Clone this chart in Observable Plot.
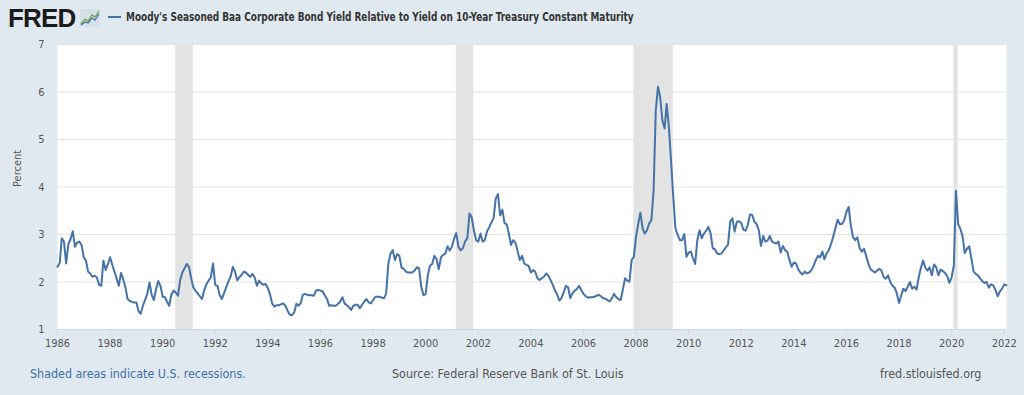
<!DOCTYPE html>
<html>
<head>
<meta charset="utf-8">
<script src="https://cdn.jsdelivr.net/npm/d3@7"></script>
<script src="https://cdn.jsdelivr.net/npm/@observablehq/plot@0.6"></script>
<style>
  html, body { margin: 0; padding: 0; background: #e1e9f0; width: 1024px; height: 395px; overflow: hidden; }
  body { font-family: "Liberation Sans", Arial, sans-serif; }
  #header { position: relative; height: 36px; }
  #logo { position: absolute; left: 8px; top: 3px; font: bold 26px "Liberation Sans", Arial, sans-serif; letter-spacing: -0.8px; color: #1a1a1a; }
  #icon { position: absolute; left: 80px; top: 9px; }
  #legline { position: absolute; left: 108px; top: 16px; width: 13px; height: 2px; background: #4572a7; }
  #title { position: absolute; left: 126px; top: 10px; font: bold 11.5px "DejaVu Sans Condensed", "Liberation Sans", Arial, sans-serif; color: #333; white-space: nowrap; transform: scaleX(0.862); transform-origin: 0 50%; }
  #chart { position: relative; height: 318px; }
  #footer { position: relative; height: 41px; font: 12.4px "DejaVu Sans Condensed", "Liberation Sans", Arial, sans-serif; color: #555; }
  #footer div { position: absolute; top: 12px; white-space: nowrap; }
  #f1 { left: 30px; color: #3f6fa8; }
  #f2 { left: 392px; }
  #f3 { left: 880px; }
</style>
</head>
<body>
<div id="header">
  <div id="logo">FRED</div>
  <svg id="icon" width="20" height="18" viewBox="0 0 20 18">
    <rect x="0" y="0" width="20" height="18" fill="#d7e0e8"/>
    <polyline points="1,15 5,10 8,12 12,6 15,8 19,2" fill="none" stroke="#6aa84f" stroke-width="1.3"/>
    <polyline points="1,16 5,13 8,14 12,9 15,11 19,5" fill="none" stroke="#4572a7" stroke-width="1.3"/>
  </svg>
  <div id="legline"></div>
  <div id="title">Moody's Seasoned Baa Corporate Bond Yield Relative to Yield on 10-Year Treasury Constant Maturity</div>
</div>
<div id="chart"></div>
<div id="footer">
  <div id="f1">Shaded areas indicate U.S. recessions.</div>
  <div id="f2">Source: Federal Reserve Bank of St. Louis</div>
  <div id="f3">fred.stlouisfed.org</div>
</div>
<script>
// Monthly observations, starting January 1986 (percent)
const firstMonth = "1986-01-01";
const spread = [
  // 1986
  2.32, 2.40, 2.92, 2.85, 2.39, 2.80, 2.90, 3.07, 2.74, 2.83, 2.85, 2.78,
  // 1987
  2.52, 2.45, 2.22, 2.18, 2.11, 2.13, 2.10, 1.94, 1.92, 2.45, 2.25, 2.37,
  // 1988
  2.52, 2.36, 2.22, 2.08, 1.92, 2.19, 2.06, 1.89, 1.64, 1.60, 1.58, 1.57,
  // 1989
  1.57, 1.38, 1.33, 1.50, 1.62, 1.75, 1.99, 1.73, 1.62, 1.85, 2.02, 1.92,
  // 1990
  1.69, 1.68, 1.59, 1.50, 1.73, 1.82, 1.78, 1.71, 2.04, 2.20, 2.29, 2.38,
  // 1991
  2.32, 2.08, 1.89, 1.82, 1.76, 1.70, 1.64, 1.83, 1.95, 2.03, 2.10, 2.39,
  // 1992
  1.94, 1.92, 1.73, 1.64, 1.76, 1.89, 2.01, 2.11, 2.32, 2.22, 2.03, 2.10,
  // 1993
  2.15, 2.22, 2.20, 2.15, 2.11, 2.17, 2.10, 1.92, 2.03, 1.97, 1.94, 1.96,
  // 1994
  1.87, 1.73, 1.55, 1.48, 1.51, 1.51, 1.53, 1.55, 1.50, 1.40, 1.31, 1.30,
  // 1995
  1.36, 1.54, 1.50, 1.55, 1.73, 1.75, 1.73, 1.72, 1.72, 1.71, 1.82, 1.83,
  // 1996
  1.82, 1.80, 1.72, 1.64, 1.50, 1.51, 1.50, 1.50, 1.54, 1.59, 1.68, 1.55,
  // 1997
  1.51, 1.47, 1.41, 1.50, 1.52, 1.52, 1.45, 1.52, 1.59, 1.64, 1.57, 1.55,
  // 1998
  1.62, 1.69, 1.69, 1.69, 1.67, 1.66, 1.75, 2.39, 2.60, 2.67, 2.46, 2.59,
  // 1999
  2.55, 2.30, 2.28, 2.22, 2.20, 2.20, 2.20, 2.24, 2.31, 2.29, 1.90, 1.72,
  // 2000
  1.75, 2.15, 2.34, 2.38, 2.55, 2.48, 2.27, 2.52, 2.57, 2.60, 2.75, 2.66,
  // 2001
  2.75, 2.92, 3.03, 2.74, 2.67, 2.71, 2.85, 2.92, 3.44, 3.37, 3.09, 2.88,
  // 2002
  2.85, 3.02, 2.85, 2.88, 3.06, 3.15, 3.25, 3.34, 3.76, 3.85, 3.40, 3.52,
  // 2003
  3.24, 3.21, 3.02, 2.78, 2.88, 2.83, 2.65, 2.46, 2.55, 2.39, 2.36, 2.34,
  // 2004
  2.20, 2.25, 2.22, 2.08, 2.04, 2.08, 2.11, 2.18, 2.13, 2.04, 1.94, 1.82,
  // 2005
  1.73, 1.61, 1.66, 1.78, 1.92, 1.89, 1.66, 1.76, 1.82, 1.85, 1.92, 1.83,
  // 2006
  1.75, 1.70, 1.67, 1.68, 1.68, 1.69, 1.71, 1.73, 1.70, 1.66, 1.65, 1.62,
  // 2007
  1.59, 1.66, 1.75, 1.68, 1.64, 1.62, 1.83, 2.08, 2.03, 2.01, 2.46, 2.53,
  // 2008
  2.95, 3.23, 3.46, 3.13, 3.02, 3.09, 3.23, 3.30, 3.93, 5.61, 6.11, 5.89,
  // 2009
  5.40, 5.23, 5.75, 5.26, 4.56, 3.79, 3.13, 2.99, 2.88, 2.88, 3.01, 2.53,
  // 2010
  2.62, 2.64, 2.50, 2.38, 2.88, 3.09, 2.92, 3.02, 3.08, 3.16, 3.03, 2.71,
  // 2011
  2.69, 2.60, 2.59, 2.60, 2.66, 2.73, 2.78, 3.27, 3.34, 3.06, 3.27, 3.28,
  // 2012
  3.24, 3.10, 3.08, 3.20, 3.42, 3.41, 3.27, 3.22, 3.09, 2.76, 2.97, 2.85,
  // 2013
  2.87, 2.97, 2.85, 2.83, 2.81, 2.85, 2.62, 2.76, 2.67, 2.64, 2.46, 2.32,
  // 2014
  2.41, 2.39, 2.27, 2.20, 2.16, 2.22, 2.18, 2.20, 2.25, 2.34, 2.46, 2.55,
  // 2015
  2.52, 2.64, 2.48, 2.60, 2.67, 2.80, 2.95, 3.13, 3.31, 3.22, 3.22, 3.30,
  // 2016
  3.48, 3.58, 3.20, 2.95, 2.88, 2.94, 2.72, 2.64, 2.70, 2.55, 2.38, 2.27,
  // 2017
  2.23, 2.20, 2.24, 2.28, 2.24, 2.10, 2.07, 2.14, 2.00, 1.92, 1.88, 1.76,
  // 2018
  1.56, 1.72, 1.86, 1.81, 1.90, 2.00, 1.86, 1.90, 1.84, 2.10, 2.30, 2.45,
  // 2019
  2.30, 2.24, 2.31, 2.14, 2.37, 2.31, 2.14, 2.26, 2.23, 2.19, 2.12, 1.98,
  // 2020
  2.10, 2.35, 3.92, 3.22, 3.12, 2.96, 2.61, 2.70, 2.75, 2.50, 2.22, 2.17,
  // 2021
  2.14, 2.07, 2.02, 1.98, 2.00, 1.88, 1.95, 1.93, 1.83, 1.70, 1.80, 1.86,
  // 2022
  1.95, 1.93
];

const recessionStarts = ["1990-07-01", "2001-03-01", "2007-12-01", "2020-02-01"];
const recessionEnds   = ["1991-03-01", "2001-11-01", "2009-06-01", "2020-04-01"];
const yTicks = [1, 2, 3, 4, 5, 6, 7];
const xTickYears = [1986, 1988, 1990, 1992, 1994, 1996, 1998, 2000, 2002, 2004, 2006, 2008, 2010, 2012, 2014, 2016, 2018, 2020, 2022];

const start = new Date(firstMonth + "T00:00:00Z");
const series = spread.map((v, i) => ({date: d3.utcMonth.offset(start, i), value: v}));
const recessions = recessionStarts.map((s, i) => ({start: new Date(s + "T00:00:00Z"), end: new Date(recessionEnds[i] + "T00:00:00Z")}));
const xTicks = xTickYears.map(y => new Date(Date.UTC(y, 0, 1)));
const lastDate = series[series.length - 1].date;

const chart = Plot.plot({
  width: 1024,
  height: 318,
  marginTop: 8,
  marginLeft: 57,
  marginRight: 18,
  marginBottom: 25,
  style: {background: "transparent", fontFamily: "'Liberation Sans Narrow', 'DejaVu Sans Condensed', Arial, sans-serif", fontSize: "11px", color: "#555", overflow: "visible"},
  x: {type: "utc", domain: [start, lastDate]},
  y: {domain: [1, 7]},
  marks: [
    Plot.frame({fill: "white", stroke: "none"}),
    Plot.rect(recessions, {x1: "start", x2: "end", fill: "#e3e3e3"}),
    Plot.gridY(yTicks.slice(1), {stroke: "#e4e4e4", strokeOpacity: 1}),
    Plot.ruleY([1], {stroke: "#ccd6eb"}),
    Plot.axisX(xTicks, {tickFormat: d3.utcFormat("%Y"), tickSize: 6, tickPadding: 4, stroke: "#ccd6eb", fill: "#555", label: null}),
    Plot.axisY(yTicks, {tickSize: 0, tickPadding: 13, fill: "#555", label: null, tickFormat: d => String(d)}),
    Plot.text(["Percent"], {frameAnchor: "left", dx: -40, rotate: -90, fill: "#555", fontSize: 11}),
    Plot.line(series, {x: "date", y: "value", stroke: "#4572a7", strokeWidth: 2})
  ]
});
document.getElementById("chart").appendChild(chart);
</script>
</body>
</html>
